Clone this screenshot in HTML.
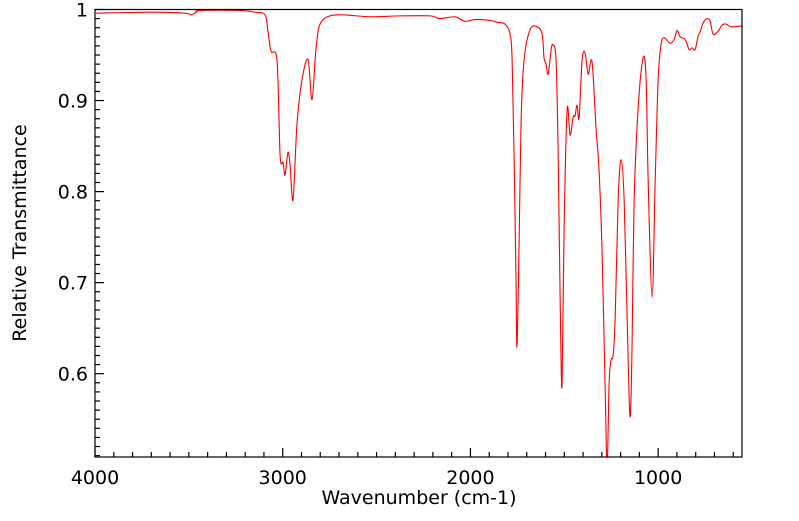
<!DOCTYPE html>
<html><head><meta charset="utf-8"><style>
html,body{margin:0;padding:0;background:#fff;}
svg text{font-family:"DejaVu Sans","Liberation Sans",sans-serif;fill:#000;}
</style></head><body>
<svg id="chart" width="799" height="516" xmlns="http://www.w3.org/2000/svg">
<defs><clipPath id="plotclip"><rect x="95" y="9.5" width="647" height="447.5"/></clipPath></defs>
<g id="ticks"></g>
<path id="spectrum" clip-path="url(#plotclip)" fill="none" stroke="#ff0000" stroke-width="1.1"/>
<rect x="95" y="9.5" width="647" height="447.5" fill="none" stroke="#000" stroke-width="1.2"/>
<text x="419" y="504" font-size="19" text-anchor="middle">Wavenumber (cm-1)</text>
<text transform="translate(26,233) rotate(-90)" font-size="19" text-anchor="middle">Relative Transmittance</text>
</svg>
<script>
const wavenumbers=[3995,3707,3520,3489,3460,3441,3227,3148,3094,3078,3062,3030,3014,2998,2988,2972,2961,2945,2924,2897,2865,2844,2823,2801,2748,2668,2535,2375,2215,2162,2082,2029,1975,1896,1858,1816,1789,1778,1768,1757,1752,1741,1730,1714,1682,1645,1618,1608,1597,1586,1570,1560,1544,1533,1522,1512,1501,1485,1469,1453,1443,1432,1421,1405,1389,1373,1357,1347,1331,1315,1299,1283,1272,1261,1251,1240,1229,1213,1197,1181,1165,1150,1139,1128,1107,1080,1064,1053,1032,1016,1000,984,968,936,915,899,883,856,835,819,803,787,777,761,739,723,707,681,659,638,611,553];
const transmittance=[.996,.997,.996,.994,.997,.999,.999,.997,.994,.975,.954,.943,.84,.832,.818,.843,.83,.791,.874,.923,.945,.901,.956,.984,.993,.994,.992,.993,.993,.99,.992,.987,.989,.988,.986,.984,.973,.945,.846,.70,.63,.74,.879,.945,.978,.981,.973,.947,.94,.929,.956,.961,.945,.846,.68,.586,.76,.89,.862,.882,.883,.895,.881,.945,.952,.929,.945,.93,.87,.824,.736,.59,.50,.59,.615,.62,.66,.791,.835,.79,.66,.553,.63,.79,.89,.947,.923,.81,.684,.81,.923,.962,.969,.963,.967,.977,.97,.967,.956,.958,.956,.971,.975,.985,.99,.987,.973,.976,.983,.984,.981,.982];
const xTickLabels=[4000,3000,2000,1000];
const yTickLabels=[1,0.9,0.8,0.7,0.6];
const X0=95,X1=742,Y0=9.5,Y1=457;
const WMAX=4000,WMIN=553.3,TMAX=1,TMIN=0.5085;
function xs(w){return X0+(WMAX-w)/(WMAX-WMIN)*(X1-X0);}
function ys(t){return Y0+(TMAX-t)/(TMAX-TMIN)*(Y1-Y0);}
const svg=document.getElementById('chart');const tg=document.getElementById('ticks');
const NS='http://www.w3.org/2000/svg';
function line(x1,y1,x2,y2){const l=document.createElementNS(NS,'line');l.setAttribute('x1',x1);l.setAttribute('y1',y1);l.setAttribute('x2',x2);l.setAttribute('y2',y2);l.setAttribute('stroke','#000');l.setAttribute('stroke-width','1.2');


tg.appendChild(l);}
for(let w=4000;w>WMIN;w-=100){const x=xs(w);const major=(w%1000===0);line(x,Y1,x,Y1-(major?9:5));}
for(let k=100;k>=51;k--){const t=k/100;const y=ys(t);const major=(k%10===0);line(X0,y,X0+(major?9:5),y);}
xTickLabels.forEach(w=>{const t=document.createElementNS(NS,'text');t.setAttribute('x',xs(w));t.setAttribute('y',484);t.setAttribute('font-size','19');t.setAttribute('text-anchor','middle');t.textContent=w;


svg.appendChild(t);});
yTickLabels.forEach(v=>{const t=document.createElementNS(NS,'text');t.setAttribute('x',88);t.setAttribute('y',ys(v)+7);t.setAttribute('font-size','19');t.setAttribute('text-anchor','end');t.textContent=v;


svg.appendChild(t);});
const pts=wavenumbers.map((w,i)=>[xs(w),ys(transmittance[i])]);
let d='M'+pts[0][0]+','+pts[0][1];
for(let i=0;i<pts.length-1;i++){const p0=pts[Math.max(0,i-1)],p1=pts[i],p2=pts[i+1],p3=pts[Math.min(pts.length-1,i+2)];
const c1=[p1[0]+(p2[0]-p0[0])/6,p1[1]+(p2[1]-p0[1])/6];const c2=[p2[0]-(p3[0]-p1[0])/6,p2[1]-(p3[1]-p1[1])/6];
d+=' C'+c1[0]+','+c1[1]+' '+c2[0]+','+c2[1]+' '+p2[0]+','+p2[1];}
document.getElementById('spectrum').setAttribute('d',d);
</script>
</body></html>
